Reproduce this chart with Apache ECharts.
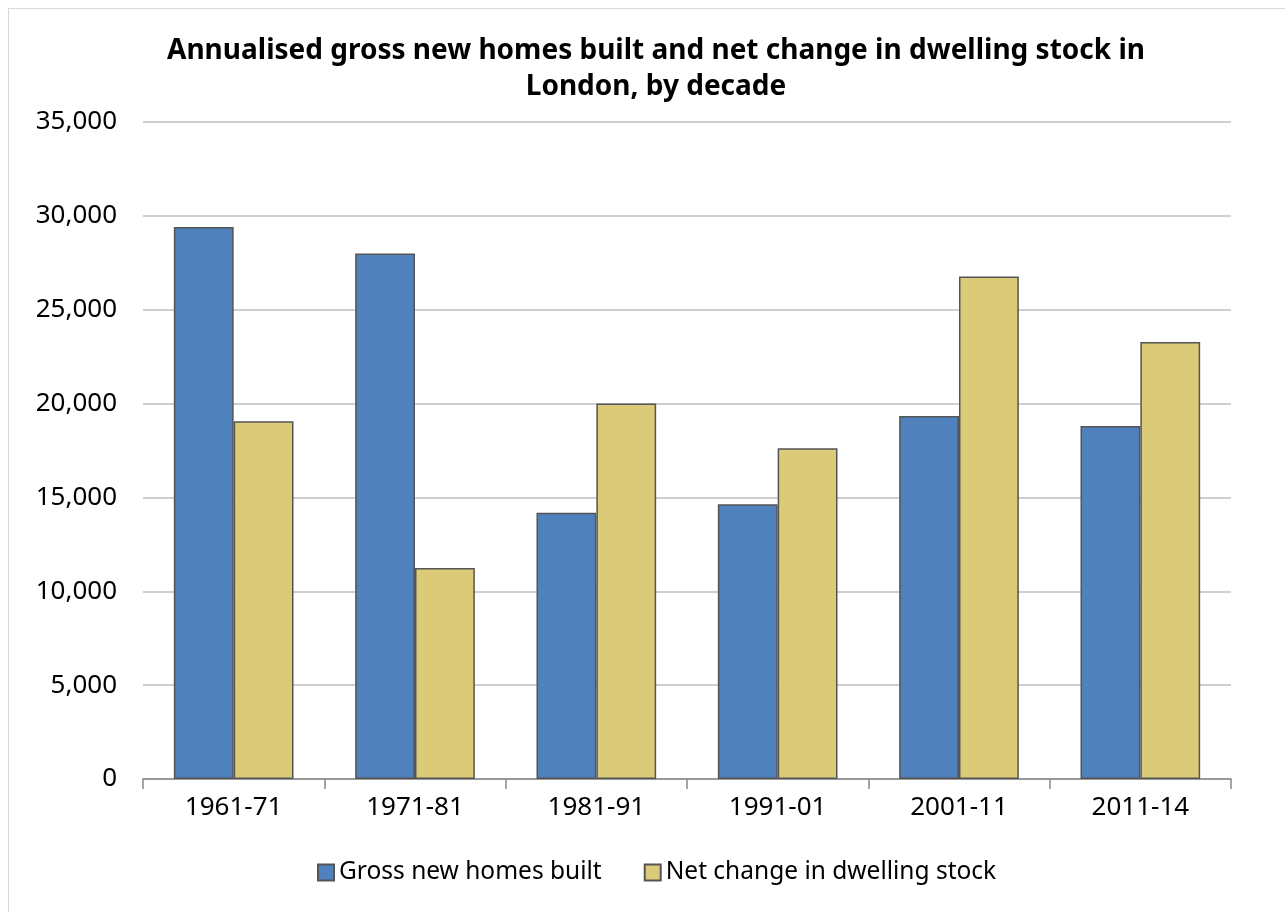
<!DOCTYPE html>
<html>
<head>
<meta charset="utf-8">
<script src="https://cdn.jsdelivr.net/npm/echarts@6/dist/echarts.min.js"></script>
<style>
  html, body { margin: 0; padding: 0; background: #fff; overflow: hidden; }
  #frame { position: absolute; left: 8px; top: 8px; width: 1300px; height: 930px; border: 1px solid #d9d9d9; }
  #chart { position: absolute; left: 0; top: 0; width: 1285px; height: 912px; }
</style>
</head>
<body>
<div id="frame"></div>
<div id="chart"></div>
<script>
// 数据
var decades = ['1961-71', '1971-81', '1981-91', '1991-01', '2001-11', '2011-14'];
var grossBuilt = [29400, 28000, 14180, 14640, 19340, 18810];
var netChange = [19060, 11240, 20000, 17620, 26770, 23280];
var yTicks = { min: 0, max: 35000, step: 5000 };

var fontName = '"Noto Sans", "Open Sans", sans-serif';

var myChart = echarts.init(document.getElementById('chart'));
var option = {
    animation: false,
    title: {
        text: 'Annualised gross new homes built and net change in dwelling stock in\nLondon, by decade',
        left: 651,
        top: 28,
        textAlign: 'center',
        textStyle: {
            fontFamily: fontName,
            fontWeight: 'bold',
            fontSize: 28,
            lineHeight: 36,
            color: '#000'
        }
    },
    legend: {
        bottom: 22,
        left: 312,
        itemWidth: 16,
        itemHeight: 16,
        itemGap: 42,
        icon: 'rect',
        textStyle: { fontFamily: fontName, fontSize: 24.5, color: '#000' },
        data: ['Gross new homes built', 'Net change in dwelling stock']
    },
    grid: { left: 143, right: 54, top: 122, bottom: 133 },
    xAxis: {
        type: 'category',
        data: decades,
        axisLine: { lineStyle: { color: '#888', width: 1.5 } },
        axisTick: { show: true, length: 10, lineStyle: { color: '#888', width: 1.5 } },
        axisLabel: { fontFamily: fontName, fontSize: 26, color: '#000', margin: 16 }
    },
    yAxis: {
        type: 'value',
        min: yTicks.min,
        max: yTicks.max,
        interval: yTicks.step,
        axisLine: { show: false },
        axisTick: { show: false },
        splitLine: { lineStyle: { color: '#bfbfbf', width: 1.5 } },
        axisLabel: {
            fontFamily: fontName, fontSize: 26, color: '#000', margin: 26,
            formatter: function (v) { return v.toLocaleString('en-GB'); }
        }
    },
    series: [
        {
            name: 'Gross new homes built',
            type: 'bar',
            data: grossBuilt,
            barGap: '0%',
            barCategoryGap: '34%',
            itemStyle: { color: '#4f81bd', borderColor: '#555', borderWidth: 1.5 }
        },
        {
            name: 'Net change in dwelling stock',
            type: 'bar',
            data: netChange,
            itemStyle: { color: '#dbcb79', borderColor: '#555', borderWidth: 1.5 }
        }
    ]
};
myChart.setOption(option);
</script>
</body>
</html>
